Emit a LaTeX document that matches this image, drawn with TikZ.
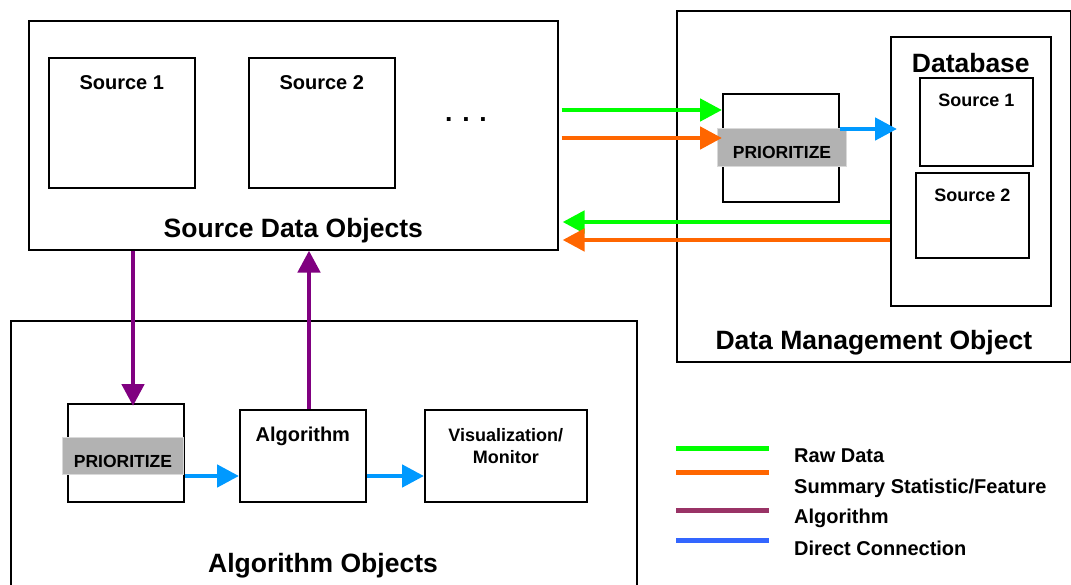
\documentclass[tikz,border=0pt]{standalone}
\usepackage{fontspec}
\setmainfont{Liberation Sans}
\usetikzlibrary{arrows.meta,positioning}

\definecolor{rawgreen}{HTML}{00FF00}
\definecolor{sumorange}{HTML}{FF6600}
\definecolor{dirblue}{HTML}{0099FF}
\definecolor{algpurple}{HTML}{800080}
\definecolor{legpurple}{HTML}{993366}
\definecolor{legblue}{HTML}{3366FF}

\tikzset{
  box/.style={draw, line width=1.6pt, anchor=north west, inner sep=0pt},
  band/.style={fill=black!30, draw=black!15, line width=1pt, anchor=north west,
    inner sep=0pt, text height=23pt, text depth=0pt,
    font=\fontsize{17.5}{22}\selectfont\bfseries},
  lbl/.style={inner sep=0pt, font=\fontsize{20}{22}\selectfont\bfseries},
  title/.style={inner sep=0pt, font=\fontsize{26.5}{30}\selectfont\bfseries},
  flow/.style={line width=4.8pt, -{Triangle[length=22pt,width=22pt]}},
  legline/.style={line width=5pt}
}

\begin{document}
\begin{tikzpicture}[x=1pt,y=-1pt]
  \useasboundingbox (0,0) rectangle (1071,585);

  % source data objects
  \node[box, minimum width=529pt, minimum height=229pt] (src) at (28,20) {};
  \node[box, minimum width=146pt, minimum height=130pt] (src1) at (48,57) {};
  \node[box, minimum width=146pt, minimum height=130pt] (src2) at (248,57) {};
  \node[lbl, below=18pt of src1.north] (src1txt) {Source 1};
  \node[lbl, below=18pt of src2.north] (src2txt) {Source 2};
  \node[title] (dots) at (466,120) {. . .};
  \node[title, above=7pt of src.south] (srctxt) {Source Data Objects};

  % data management object
  \node[box, minimum width=394pt, minimum height=351pt] (dm) at (676,10) {};
  \node[title, above=7pt of dm.south] (dmtxt) {Data Management Object};
  \node[box, minimum width=160pt, minimum height=269pt] (db) at (890,36) {};
  \node[title, below=17pt of db.north] (dbtxt) {Database};
  \node[box, minimum width=113pt, minimum height=88pt] (db1) at (919,77) {};
  \node[box, minimum width=113pt, minimum height=85pt] (db2) at (915,172) {};
  \node[lbl, below=17pt of db1.north, font=\fontsize{18}{22}\selectfont\bfseries] (db1txt) {Source 1};
  \node[lbl, below=17pt of db2.north, font=\fontsize{18}{22}\selectfont\bfseries] (db2txt) {Source 2};
  \node[box, minimum width=116pt, minimum height=108pt] (tprio) at (722,93) {};
  \node[band, minimum width=129pt, minimum height=38pt] (tband) at (717,128) {PRIORITIZE};

  % algorithm objects
  \node[box, minimum width=626pt, minimum height=280pt] (algobj) at (10,320) {};
  \node[title] (algobjtxt) at (323,566) {Algorithm Objects};
  \node[box, minimum width=116pt, minimum height=98pt] (bprio) at (67,403) {};
  \node[band, minimum width=121pt, minimum height=37pt] (bband) at (62,437) {PRIORITIZE};
  \node[box, minimum width=126pt, minimum height=92pt] (alg) at (239,409) {};
  \node[lbl, below=18pt of alg.north] (algtxt) {Algorithm};
  \node[box, minimum width=162pt, minimum height=92pt] (vis) at (424,409) {};
  \node[lbl, align=center, below=19pt of vis.north, font=\fontsize{18}{22}\selectfont\bfseries]
    (vistxt) {Visualization/\\Monitor};

  % connectors
  \coordinate (gtop) at (0,110);
  \coordinate (otop) at (0,138);
  \coordinate (btop) at (0,129);
  \coordinate (gbot) at (0,222);
  \coordinate (obot) at (0,240);
  \coordinate (bbot) at (0,476);
  \coordinate (pdown) at (133,0);
  \coordinate (pup) at (309,0);
  \draw[flow, rawgreen] ([xshift=3pt]src.east |- gtop) -- (tprio.west |- gtop);
  \draw[flow, sumorange] ([xshift=3pt]src.east |- otop) -- (tprio.west |- otop);
  \draw[flow, dirblue] (tprio.east |- btop) -- ([xshift=7pt]db.west |- btop);
  \draw[flow, rawgreen] (db.west |- gbot) -- ([xshift=4pt]src.east |- gbot);
  \draw[flow, sumorange] (db.west |- obot) -- ([xshift=4pt]src.east |- obot);
  \draw[flow, algpurple] (src.south -| pdown) -- ([yshift=-3pt]bprio.north -| pdown);
  \draw[flow, algpurple] (alg.north -| pup) -- (src.south -| pup);
  \draw[flow, dirblue] (bprio.east |- bbot) -- (alg.west |- bbot);
  \draw[flow, dirblue] (alg.east |- bbot) -- (vis.west |- bbot);

  % legend
  \draw[legline, rawgreen] (676,448) -- (769,448);
  \draw[legline, sumorange] (676,472) -- (769,472);
  \draw[legline, legpurple] (676,510) -- (769,510);
  \draw[legline, legblue] (676,540) -- (769,540);
  \node[lbl, anchor=west] (legraw) at (794,456) {Raw Data};
  \node[lbl, anchor=west] (legsum) at (794,488) {Summary Statistic/Feature};
  \node[lbl, anchor=west] (legalg) at (794,518) {Algorithm};
  \node[lbl, anchor=west] (legdir) at (794,548) {Direct Connection};
\end{tikzpicture}
\end{document}
